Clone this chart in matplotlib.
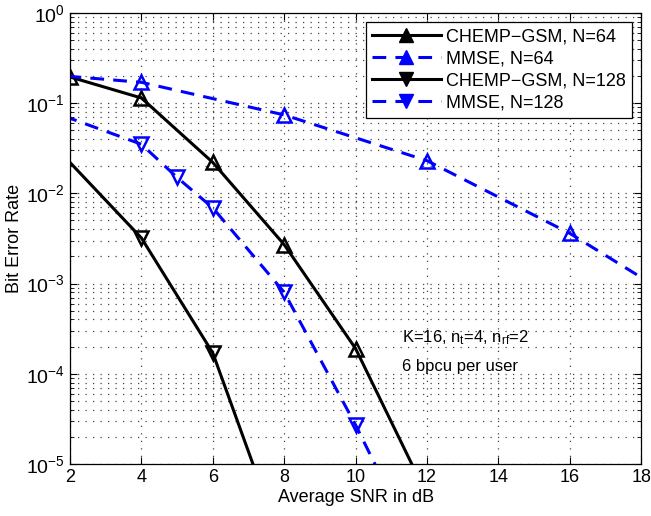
import matplotlib
matplotlib.use('Agg')
import matplotlib.pyplot as plt
from matplotlib.lines import Line2D

plt.rcParams['font.family'] = ['Liberation Sans', 'DejaVu Sans']
plt.rcParams['mathtext.fontset'] = 'custom'
plt.rcParams['mathtext.rm'] = 'Liberation Sans'
plt.rcParams['mathtext.it'] = 'Liberation Sans'

# BER vs. average SNR (dB)
snr_chemp64 = [2, 4, 6, 8, 10, 12]
ber_chemp64 = [0.195, 0.114, 0.022, 0.0027, 1.9e-4, 4.5e-6]

snr_mmse64 = [0, 4, 8, 12, 16, 20]
ber_mmse64 = [0.23, 0.17, 0.074, 0.023, 0.0036, 3.8e-4]

snr_chemp128 = [0, 4, 6, 8]
ber_chemp128 = [0.151, 0.0032, 1.7e-4, 1.1e-6]

snr_mmse128 = [0, 4, 5, 6, 8, 10, 12]
ber_mmse128 = [0.132, 0.035, 0.015, 0.0069, 8e-4, 2.7e-5, 6.8e-7]

labels = ['CHEMP\u2212GSM, N=64', 'MMSE, N=64',
          'CHEMP\u2212GSM, N=128', 'MMSE, N=128']

fig = plt.figure(figsize=(6.51, 5.16), dpi=100)
ax = fig.add_axes([0.1075, 0.1008, 0.8775, 0.8742])

blue = '#0000ff'
dash = (4.5, 3)
common = dict(lw=2.2, markersize=10, mew=1.8, markerfacecolor='none')
ax.semilogy(snr_chemp64, ber_chemp64, '-^', color='k', **common)
ax.semilogy(snr_mmse64, ber_mmse64, '--^', color=blue, dashes=dash, **common)
ax.semilogy(snr_chemp128, ber_chemp128, '-v', color='k', **common)
ax.semilogy(snr_mmse128, ber_mmse128, '--v', color=blue, dashes=dash, **common)

ax.set_xlim(2, 18)
ax.set_ylim(1e-5, 1)
ax.set_xticks(range(2, 19, 2))

dots = (0, (1, 5))
ax.grid(True, which='major', axis='x', linestyle=dots, color='#444444', lw=0.9)
ax.grid(True, which='both', axis='y', linestyle=dots, color='#444444', lw=0.9)
ax.tick_params(which='both', direction='in', top=True, right=True)
ax.tick_params(axis='x', labelsize=13)
ax.tick_params(axis='y', labelsize=14)
ax.tick_params(which='major', length=5)
ax.tick_params(which='minor', length=3)
for s in ax.spines.values():
    s.set_linewidth(0.9)

ax.set_xlabel('Average SNR in dB', fontsize=13, labelpad=2)
ax.set_ylabel('Bit Error Rate', fontsize=13, labelpad=2)

ax.text(11.3, 2.5e-4, r'K=16, n$_t$=4, n$_{rf}$=2', fontsize=12, va='center')
ax.text(11.3, 1.2e-4, '6 bpcu per user', fontsize=12, va='center')

# legend entries with filled markers
handles = [
    Line2D([], [], color='k', ls='-', lw=2.2, marker='^', markersize=10),
    Line2D([], [], color=blue, ls='--', dashes=dash, lw=2.2, marker='^', markersize=10),
    Line2D([], [], color='k', ls='-', lw=2.2, marker='v', markersize=10),
    Line2D([], [], color=blue, ls='--', dashes=dash, lw=2.2, marker='v', markersize=10),
]
leg = ax.legend(handles, labels, loc='upper right', fontsize=13, fancybox=False,
                edgecolor='k', framealpha=1, borderpad=0.35, labelspacing=0.28,
                handlelength=3.8, handletextpad=0.3, borderaxespad=0.5)
leg.get_frame().set_linewidth(0.9)

fig.savefig('out.png', dpi=100)
